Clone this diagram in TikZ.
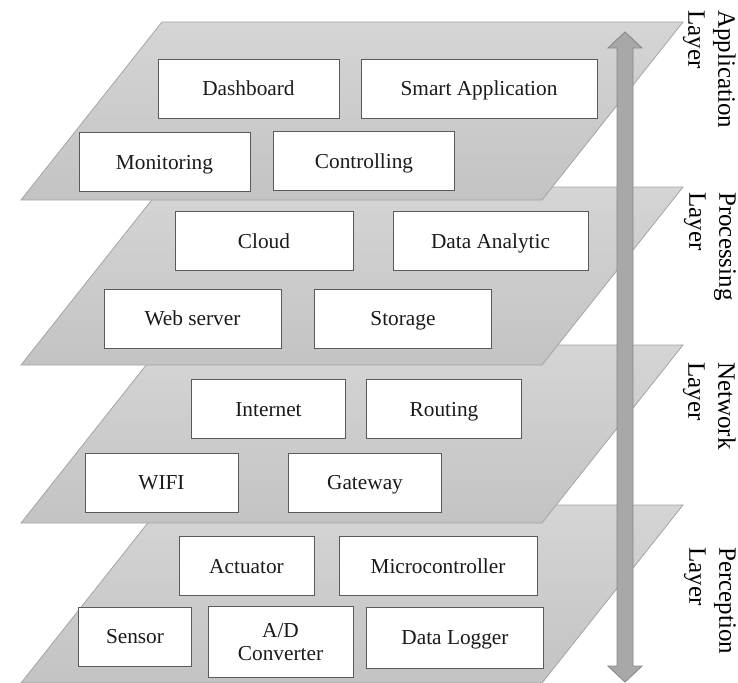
\documentclass[tikz,border=0pt]{standalone}
\usepackage{fontspec}
\setmainfont{Liberation Serif}

\definecolor{slabtop}{HTML}{D5D5D5}
\definecolor{slabbot}{HTML}{C3C3C3}
\definecolor{slabedge}{HTML}{A4A4A4}
\definecolor{boxedge}{HTML}{5A5A5A}
\definecolor{arrowfill}{HTML}{A8A8A8}
\definecolor{arrowedge}{HTML}{888888}
\definecolor{ink}{HTML}{1A1A1A}

\begin{document}
\begin{tikzpicture}[x=1pt,y=-1pt,
  slab/.style={draw=slabedge, line width=0.8pt, top color=slabtop, bottom color=slabbot},
  unit/.style={draw=boxedge, fill=white, line width=0.8pt, inner sep=0pt,
    text=ink, align=center, text height=16pt, text depth=2pt,
    font=\fontsize{21.3}{23}\selectfont},
  twoline/.style={text height={}, text depth={}},
  layername/.style={rotate=-90, anchor=north west, inner sep=0pt, align=left,
    text=black, font=\fontsize{25}{30}\selectfont}
]
\useasboundingbox (0,0) rectangle (738,682);

% layer slabs, drawn bottom-up so each upper slab overlaps the one below
\foreach \t in {505,345,187,22}{
  \path[slab] (162,\t) -- (683,\t) -- (542,\t+178) -- (21,\t+178) -- cycle;
  \ifnum\t=505
    % perception layer
    \node[unit, minimum width=135pt, minimum height=58.5pt] (act)  at (246.5,566) {Actuator};
    \node[unit, minimum width=198pt, minimum height=58.5pt] (mcu)  at (438,566)   {Microcontroller};
    \node[unit, minimum width=112.5pt, minimum height=59pt] (sen)  at (135,636.5) {Sensor};
    \node[unit, twoline, minimum width=145pt, minimum height=70.5pt] (adc) at (280.5,642) {A/D\\Converter};
    \node[unit, minimum width=177.5pt, minimum height=61pt] (log)  at (455,637.5) {Data Logger};
  \fi
  \ifnum\t=345
    % network layer
    \node[unit, minimum width=154.5pt, minimum height=59.5pt] (inet) at (268.5,409) {Internet};
    \node[unit, minimum width=154.5pt, minimum height=59.5pt] (rout) at (444,409)   {Routing};
    \node[unit, minimum width=153pt, minimum height=59pt]     (wifi) at (161.5,482.5) {WIFI};
    \node[unit, minimum width=153.5pt, minimum height=59pt]   (gate) at (365,482.5) {Gateway};
  \fi
  \ifnum\t=187
    % processing layer
    \node[unit, minimum width=178pt, minimum height=59.5pt] (cld)  at (264,241)   {Cloud};
    \node[unit, minimum width=195pt, minimum height=59.5pt] (ana)  at (490.5,241) {Data Analytic};
    \node[unit, minimum width=177pt, minimum height=59pt]   (web)  at (192.5,318.5) {Web server};
    \node[unit, minimum width=176.5pt, minimum height=59pt] (sto)  at (403,318.5) {Storage};
  \fi
  \ifnum\t=22
    % application layer
    \node[unit, minimum width=181pt, minimum height=59pt]   (dash) at (248.5,88.5) {Dashboard};
    \node[unit, minimum width=236pt, minimum height=59pt]   (app)  at (479,88.5)   {Smart Application};
    \node[unit, minimum width=171pt, minimum height=58.5pt] (mon)  at (164.5,162)  {Monitoring};
    \node[unit, minimum width=180.5pt, minimum height=59pt] (ctl)  at (364,161)    {Controlling};
  \fi
}

% two-headed vertical arrow spanning all layers
\path[draw=arrowedge, fill=arrowfill, line width=0.9pt, line join=miter]
  (625,32) -- (642,48) -- (633,48) -- (633,666) -- (642,666) -- (625,682)
  -- (608,666) -- (617,666) -- (617,48) -- (608,48) -- cycle;

% layer names, set vertically
\node[layername] (lapp)  at (736,10)  {Application\\Layer};
\node[layername] (lproc) at (736,192) {Processing\\Layer};
\node[layername] (lnet)  at (736,362) {Network\\Layer};
\node[layername] (lper)  at (736,547) {Perception\\Layer};
\end{tikzpicture}
\end{document}
